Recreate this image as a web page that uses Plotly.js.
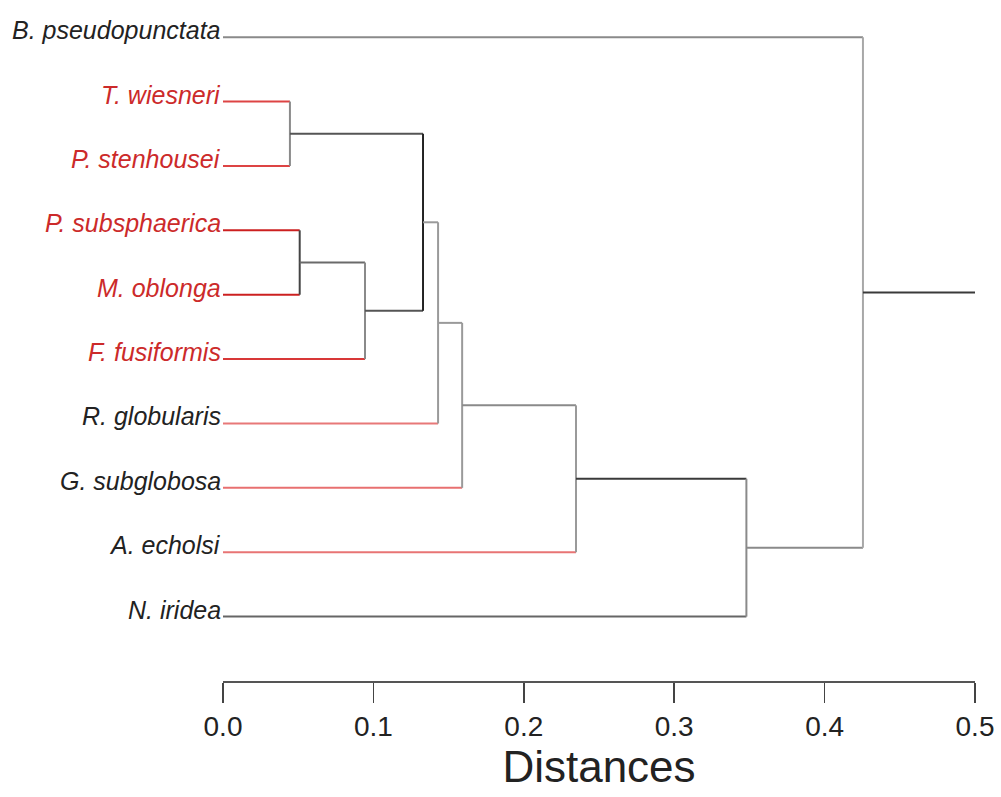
<!DOCTYPE html>
<html>
<head>
<meta charset="utf-8">
<script src="https://cdn.plot.ly/plotly-3.0.1.min.js"></script>
<style>html,body{margin:0;padding:0;background:#fff;}#chart{width:1001px;height:797px;}</style>
</head>
<body>
<div id="chart"></div>
<script>
// Leaves, top to bottom
const leaves = ['B. pseudopunctata','T. wiesneri','P. stenhousei','P. subsphaerica','M. oblonga',
                'F. fusiformis','R. globularis','G. subglobosa','A. echolsi','N. iridea'];
// Merges (node ids 10..18): left child, right child, distance
const mergeLeft   = [1, 3, 11, 10, 13, 14, 15, 16, 0];
const mergeRight  = [2, 4, 5, 12, 6, 7, 8, 9, 17];
const mergeHeight = [0.0445, 0.051, 0.0944, 0.133, 0.143, 0.159, 0.2347, 0.348, 0.4255];
const rootTip = 0.5;
const tickVals = [0.0, 0.1, 0.2, 0.3, 0.4, 0.5];
const tickText = ['0.0','0.1','0.2','0.3','0.4','0.5'];

// styles
const labelColor = ['#222','#cc2a2a','#cc2a2a','#cc2a2a','#cc2a2a','#cc2a2a','#222','#222','#222','#222'];
const hColor = {0:'#8a8a8a',1:'#dd4444',2:'#dd4444',3:'#cc2020',4:'#cc2020',5:'#d83838',
  6:'#e87878',7:'#e87070',8:'#e87474',9:'#666666',10:'#555555',11:'#6a6a6a',12:'#555555',
  13:'#9a9a9a',14:'#9a9a9a',15:'#8a8a8a',16:'#3a3a3a',17:'#8a8a8a',18:'#3a3a3a'};
const vColor = {10:'#8a8a8a',11:'#444444',12:'#8a8a8a',13:'#222222',14:'#9a9a9a',15:'#9a9a9a',
  16:'#9a9a9a',17:'#8a8a8a',18:'#a8a8a8'};

const nodeY = {}, nodeH = {};
leaves.forEach((l,i)=>{nodeY[i]=i; nodeH[i]=0;});
const traces = [];
function seg(x0,x1,y0,y1,c){
  traces.push({type:'scatter',mode:'lines',x:[x0,x1],y:[y0,y1],
    line:{color:c,width:2},hoverinfo:'none',showlegend:false,cliponaxis:false});
}
mergeLeft.forEach((a,k)=>{
  const id = 10+k, b = mergeRight[k], h = mergeHeight[k];
  nodeY[id] = (nodeY[a]+nodeY[b])/2; nodeH[id] = h;
  seg(nodeH[a], h, nodeY[a], nodeY[a], hColor[a]);
  seg(nodeH[b], h, nodeY[b], nodeY[b], hColor[b]);
  seg(h, h, nodeY[a], nodeY[b], vColor[id]);
});
const rootId = 10+mergeLeft.length-1;
seg(nodeH[rootId], rootTip, nodeY[rootId], nodeY[rootId], hColor[rootId]);

const annotations = leaves.map((l,i)=>({
  x:0, y:i, xref:'x', yref:'y', text:'<i>'+l+'</i>', showarrow:false,
  xanchor:'right', yanchor:'middle', xshift:0, yshift:7,
  font:{family:'Liberation Sans, Arial, sans-serif', size:25, color:labelColor[i]}
}));

const layout = {
  width:1001, height:797,
  margin:{l:223, r:26, t:5, b:116},
  paper_bgcolor:'#fff', plot_bgcolor:'#fff',
  xaxis:{range:[0,0.5], tickvals:tickVals, ticktext:tickText, showgrid:false, zeroline:false,
    showline:true, linecolor:'#555', linewidth:1.5, ticks:'outside', ticklen:20, tickwidth:1.5,
    tickcolor:'#444', automargin:false,
    tickfont:{family:'Liberation Sans, Arial, sans-serif', size:28, color:'#222'},
    title:{text:'Distances', font:{family:'Liberation Sans, Arial, sans-serif', size:44, color:'#222'}, standoff:4},
    fixedrange:true},
  yaxis:{range:[10,-0.5], showgrid:false, zeroline:false, showline:false, showticklabels:false,
    ticks:'', fixedrange:true},
  annotations: annotations,
  showlegend:false
};
Plotly.newPlot('chart', traces, layout, {displayModeBar:false, staticPlot:true});
</script>
</body>
</html>
